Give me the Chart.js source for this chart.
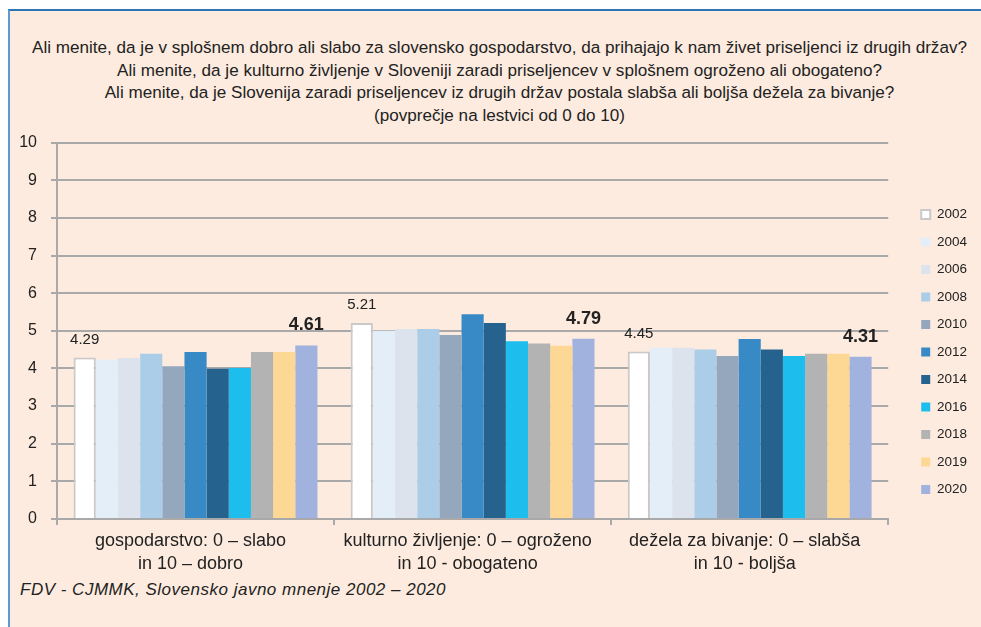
<!DOCTYPE html>
<html>
<head>
<meta charset="utf-8">
<script src="https://cdn.jsdelivr.net/npm/chart.js@4.4.0/dist/chart.umd.min.js"></script>
<style>
  body { margin: 0; width: 981px; height: 627px; background: #fff; overflow: hidden;
         font-family: "Liberation Sans", Arial, sans-serif; color: #222; }
  #okvir { position: absolute; left: 8px; top: 9px; right: 0; bottom: 0; background: #FDEBDF;
           border-top: 2px solid #2E75B6; border-left: 2px solid #5B9BD5; }
  #naslov { position: absolute; left: 9px; top: 37px; width: 981px; text-align: center;
            font-size: 17.1px; line-height: 22.5px; }
  #vir { position: absolute; left: 20px; top: 580px; font-style: italic; font-size: 17px; letter-spacing: 0.5px; }
  #platno { position: absolute; left: 0; top: 119px; width: 981px; height: 456px; }
</style>
</head>
<body>
<div id="okvir"></div>
<div id="naslov">
  Ali menite, da je v splošnem dobro ali slabo za slovensko gospodarstvo, da prihajajo k nam živet priseljenci iz drugih držav?<br>
  Ali menite, da je kulturno življenje v Sloveniji zaradi priseljencev v splošnem ogroženo ali obogateno?<br>
  Ali menite, da je Slovenija zaradi priseljencev iz drugih držav postala slabša ali boljša dežela za bivanje?<br>
  (povprečje na lestvici od 0 do 10)
</div>
<div id="platno"><canvas id="graf"></canvas></div>
<div id="vir">FDV - CJMMK, Slovensko javno mnenje 2002 – 2020</div>

<script>
// kategorije (vprašanja)
const kategorije = [
    ["gospodarstvo: 0 – slabo", "in 10 – dobro"],
    ["kulturno življenje: 0 – ogroženo", "in 10 - obogateno"],
    ["dežela za bivanje: 0 – slabša", "in 10 - boljša"]
];

const leta = ["2002", "2004", "2006", "2008", "2010", "2012", "2014", "2016", "2018", "2019", "2020"];

// povprečja po letih (gospodarstvo, kultura, bivanje)
const v2002 = [4.29, 5.21, 4.45];
const v2004 = [4.23, 5.00, 4.55];
const v2006 = [4.28, 5.05, 4.55];
const v2008 = [4.39, 5.05, 4.50];
const v2010 = [4.06, 4.89, 4.33];
const v2012 = [4.44, 5.44, 4.78];
const v2014 = [3.99, 5.21, 4.50];
const v2016 = [4.01, 4.72, 4.33];
const v2018 = [4.44, 4.66, 4.39];
const v2019 = [4.44, 4.60, 4.39];
const v2020 = [4.61, 4.79, 4.31];

const yTicks = [0, 1, 2, 3, 4, 5, 6, 7, 8, 9, 10];

const vrednosti = [v2002, v2004, v2006, v2008, v2010, v2012, v2014, v2016, v2018, v2019, v2020];
const barve = ["#FFFFFF", "#E3EEF9", "#DDE3EC", "#ABCDE8", "#94A7BD", "#388AC6",
               "#26628E", "#1DBDEE", "#B3B3B3", "#FDD894", "#A0B2DD"];

const MREZA = "#A9A9A9";

// ======== OZNAKE NAD STOLPCI (2002 in 2020) ========
const oznake = {
    id: "oznake",
    afterDatasetsDraw(chart) {
        const ctx = chart.ctx;
        const nastavitve = [
            { ds: 0, font: "normal 15px 'Liberation Sans', Arial", odmik: 14 },
            { ds: leta.length - 1, font: "bold 18px 'Liberation Sans', Arial", odmik: 15 }
        ];
        ctx.save();
        ctx.fillStyle = "#222";
        ctx.textAlign = "center";
        ctx.textBaseline = "alphabetic";
        nastavitve.forEach(n => {
            ctx.font = n.font;
            chart.getDatasetMeta(n.ds).data.forEach((bar, i) => {
                ctx.fillText(vrednosti[n.ds][i].toFixed(2), bar.x, bar.y - n.odmik);
            });
        });
        ctx.restore();
    }
};

const ctx = document.getElementById("graf").getContext("2d");

new Chart(ctx, {
    type: "bar",
    data: {
        labels: kategorije,
        datasets: leta.map((leto, i) => ({
            label: leto,
            data: vrednosti[i],
            backgroundColor: barve[i],
            borderColor: i === 0 ? "#C9C9C9" : barve[i],
            borderWidth: i === 0 ? 2 : 0,
            barPercentage: 1,
            categoryPercentage: 0.88
        }))
    },
    options: {
        responsive: true,
        maintainAspectRatio: false,
        animation: false,
        layout: { padding: { top: 10, left: 0, right: 4, bottom: 0 } },
        scales: {
            y: {
                min: 0,
                max: 10,
                afterBuildTicks: s => { s.ticks = yTicks.map(v => ({ value: v })); },
                ticks: { color: "#222", font: { size: 16 }, padding: 14 },
                grid: { color: MREZA, lineWidth: 2, tickLength: 6 },
                border: { color: MREZA, width: 2 },
                afterFit: s => { s.width = 57; }
            },
            x: {
                grid: { display: true, drawOnChartArea: false, offset: true, color: MREZA, lineWidth: 2, tickLength: 6 },
                border: { color: MREZA, width: 2 },
                ticks: { color: "#222", font: { size: 18, lineHeight: 1.3 }, padding: 4, maxRotation: 0, labelOffset: -5 },
                afterFit: s => { s.height = 56; }
            },
            // prazna os za razmik med grafom in legendo
            razmik: {
                type: "linear",
                position: "right",
                display: true,
                grid: { display: false },
                ticks: { display: false },
                border: { display: false },
                afterFit: s => { s.width = 19; }
            }
        },
        plugins: {
            legend: {
                position: "right",
                align: "center",
                labels: {
                    boxWidth: 9,
                    boxHeight: 9,
                    padding: 14,
                    color: "#222",
                    font: { size: 13.5 }
                }
            },
            tooltip: { enabled: false }
        }
    },
    plugins: [oznake]
});
</script>
</body>
</html>
